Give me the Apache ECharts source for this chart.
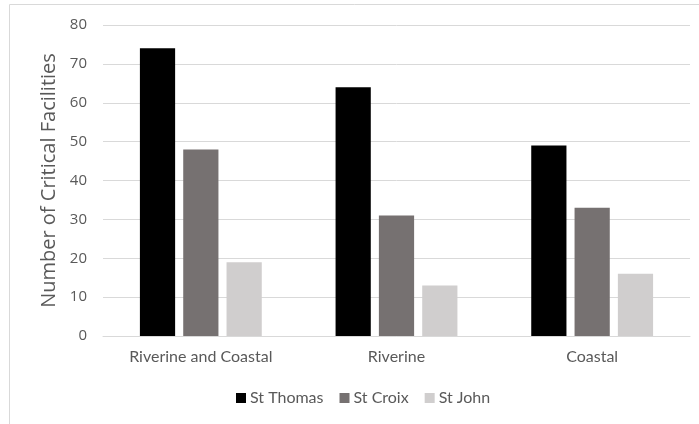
<!DOCTYPE html>
<html><head><meta charset="utf-8">
<script src="https://cdn.jsdelivr.net/npm/echarts@6/dist/echarts.min.js"></script>
<style>html,body{margin:0;padding:0;background:#fff}#c{width:699px;height:424px}</style>
</head><body><div id="c"></div>
<script>
const categories = ['Riverine and Coastal', 'Riverine', 'Coastal'];
const seriesNames = ['St Thomas', 'St Croix', 'St John'];
const stThomas = [74, 64, 49];
const stCroix = [48, 31, 33];
const stJohn = [19, 13, 16];
const yTicks = [0, 10, 20, 30, 40, 50, 60, 70, 80];
const colors = ['#000000', '#767171', '#d0cece'];
const narrow = 'Lato, sans-serif';

const chart = echarts.init(document.getElementById('c'), null, {renderer: 'canvas'});
chart.setOption({
  animation: false,
  graphic: [{type: 'rect', shape: {x: 9.5, y: 4.5, width: 700, height: 440}, style: {fill: 'none', stroke: '#d9d9d9', lineWidth: 1}, silent: true}],
  grid: {left: 103, right: 9, top: 25, bottom: 88, containLabel: false},
  legend: {
    bottom: 13, left: 231, itemWidth: 10, itemHeight: 10, itemGap: 16,
    icon: 'rect',
    textStyle: {color: '#595959', fontSize: 16, fontFamily: narrow, padding: [0, 0, 0, -1]},
    data: seriesNames
  },
  xAxis: {
    type: 'category', data: categories,
    axisLine: {lineStyle: {color: '#d9d9d9', width: 1}},
    axisTick: {show: false},
    axisLabel: {color: '#595959', fontSize: 16, fontFamily: narrow, margin: 13}
  },
  yAxis: {
    type: 'value', min: yTicks[0], max: yTicks[yTicks.length - 1], interval: 10,
    name: 'Number of Critical Facilities', nameLocation: 'middle', nameGap: 43,
    nameTextStyle: {color: '#595959', fontSize: 20, fontFamily: '"Open Sans", sans-serif'},
    axisLine: {show: false}, axisTick: {show: false},
    axisLabel: {color: '#595959', fontSize: 15, fontFamily: '"Open Sans", sans-serif', margin: 16},
    splitLine: {lineStyle: {color: '#d9d9d9', width: 1}}
  },
  series: [
    {name: seriesNames[0], type: 'bar', data: stThomas, barWidth: '18%', barGap: '23%', itemStyle: {color: colors[0]}},
    {name: seriesNames[1], type: 'bar', data: stCroix, barWidth: '18%', barGap: '23%', itemStyle: {color: colors[1]}},
    {name: seriesNames[2], type: 'bar', data: stJohn, barWidth: '18%', barGap: '23%', itemStyle: {color: colors[2]}}
  ]
});
</script></body></html>
